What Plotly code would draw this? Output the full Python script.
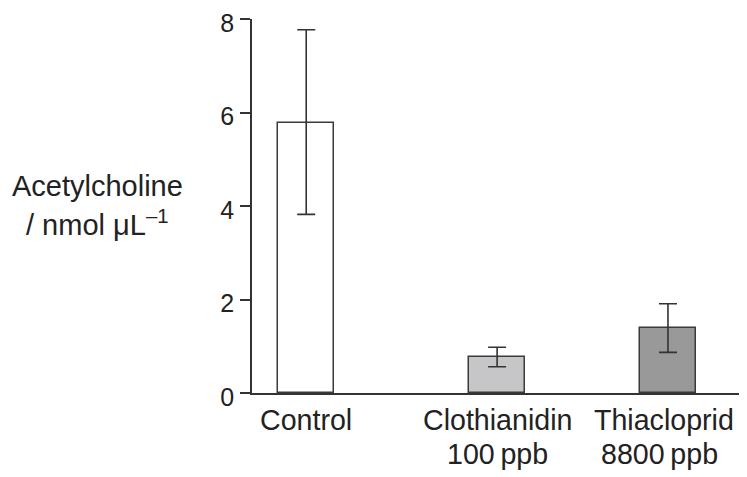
import plotly.graph_objects as go

categories = ["Control", "Clothianidin", "Thiacloprid"]
sublabels = ["", "100\u2009ppb", "8800\u2009ppb"]
x_pos = [0.0, 1.0, 1.895]
values = [5.78, 0.78, 1.38]
err_plus = [1.99, 0.20, 0.53]
err_minus = [1.96, 0.22, 0.51]
fill_colors = ["#ffffff", "#c6c6c8", "#999999"]
y_ticks = [0, 2, 4, 6, 8]

font_family = "Liberation Sans, Arial, sans-serif"
line_col = "#333333"
text_col = "#222222"
cat_size = 28.6

fig = go.Figure()
fig.add_trace(go.Bar(
    x=x_pos, y=values, width=0.293,
    marker=dict(color=fill_colors, line=dict(color="#3a3a3a", width=1.5)),
    error_y=dict(type="data", symmetric=False, array=err_plus, arrayminus=err_minus,
                 color=line_col, thickness=1.6, width=9),
    showlegend=False,
))

annotations = []
# category labels, first line
for xp, cat, dx in zip(x_pos, categories, [0.0, 0.0, -0.02]):
    annotations.append(dict(x=xp + dx, xref="x", y=-0.025, yref="paper",
                            text=cat, showarrow=False, xanchor="center", yanchor="top",
                            font=dict(family=font_family, size=cat_size, color=text_col)))
# category labels, second line
for xp, sl, dx in zip(x_pos, sublabels, [0, 0.003, -0.045]):
    if sl:
        annotations.append(dict(x=xp + dx, xref="x", y=-0.116, yref="paper",
                                text=sl, showarrow=False, xanchor="center", yanchor="top",
                                font=dict(family=font_family, size=cat_size, color=text_col)))
# y-axis title (two lines)
annotations.append(dict(xref="paper", yref="paper", x=-0.312, y=0.601,
                        text="Acetylcholine", showarrow=False,
                        xanchor="center", yanchor="top",
                        font=dict(family=font_family, size=29, color=text_col)))
annotations.append(dict(xref="paper", yref="paper", x=-0.3133, y=0.507,
                        text="/ nmol \u03bcL<sup>\u20131</sup>", showarrow=False,
                        xanchor="center", yanchor="top",
                        font=dict(family=font_family, size=29, color=text_col)))

fig.update_layout(
    width=747, height=477,
    margin=dict(l=244, r=8, t=11, b=92, pad=0, autoexpand=False),
    paper_bgcolor="white", plot_bgcolor="white",
    font=dict(family=font_family, size=25, color=text_col),
    bargap=0,
    xaxis=dict(range=[-0.284, 2.309], tickmode="array", tickvals=x_pos, automargin=False,
               showticklabels=False, showgrid=False, zeroline=False, showline=True,
               linecolor=line_col, linewidth=1.5, ticks=""),
    yaxis=dict(range=[0, 8], tickmode="array", tickvals=y_ticks, showgrid=False, zeroline=False,
               automargin=False,
               showline=True, linecolor=line_col, linewidth=1.5, ticks="outside", ticklen=10,
               tickwidth=1.5, tickcolor=line_col, tickfont=dict(size=25, color=text_col),
               ticklabelstandoff=1, ticklabelshift=4, ticklabeloverflow="allow"),
    annotations=annotations,
)

fig.write_html("out.html")
